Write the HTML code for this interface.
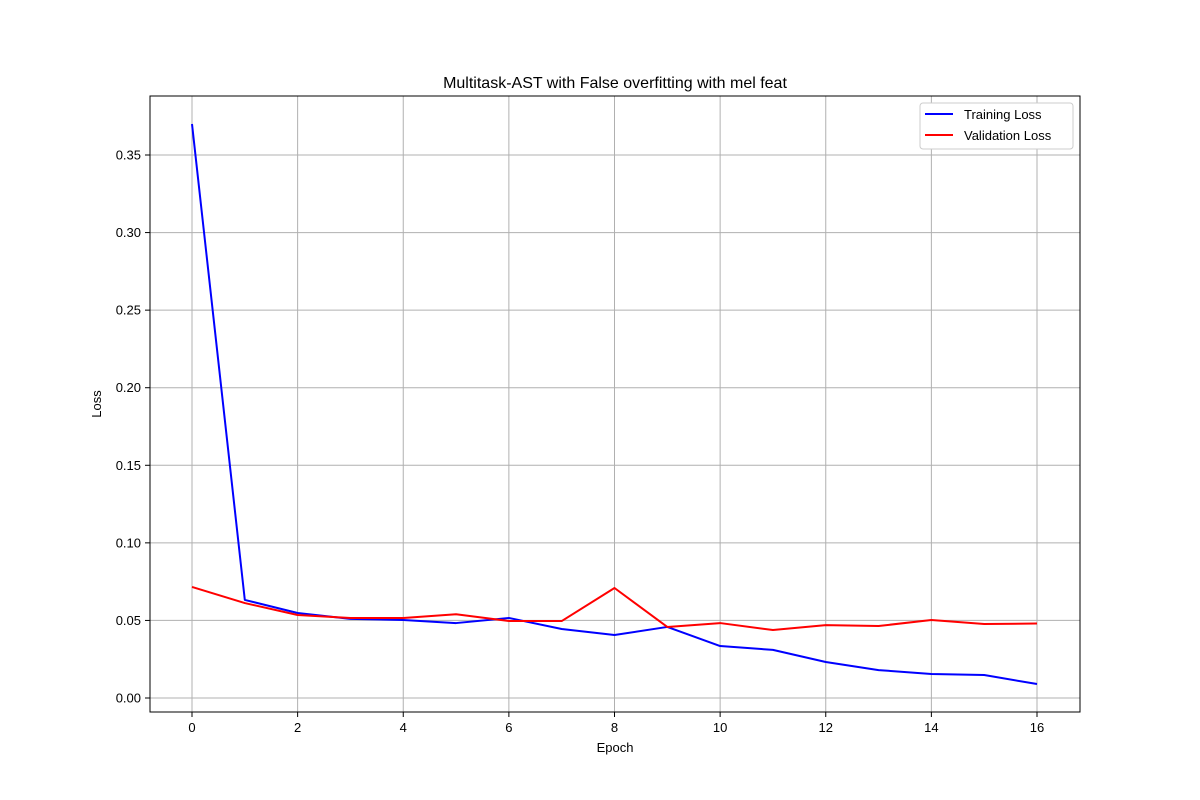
<!DOCTYPE html>
<html><head><meta charset="utf-8"><style>
html,body{margin:0;padding:0;background:#fff;}
svg{display:block;font-family:"Liberation Sans","DejaVu Sans",sans-serif;}
</style></head><body>
<svg id="chart" width="1200" height="800">
<rect x="0" y="0" width="1200" height="800" fill="#fff"/>
<g id="grid"></g>
<g id="series"></g>
<rect x="150" y="96" width="930" height="616" fill="none" stroke="#000" stroke-width="1"/>
<g id="ticks"></g>
<text x="615" y="88" text-anchor="middle" font-size="16">Multitask-AST with False overfitting with mel feat</text>
<text x="615" y="752" text-anchor="middle" font-size="13">Epoch</text>
<text x="101" y="404" text-anchor="middle" font-size="13" transform="rotate(-90 101 404)">Loss</text>
<g>
<rect x="920" y="103" width="153" height="46" rx="3" fill="#fff" stroke="#ccc"/>
<line x1="925" y1="114" x2="953" y2="114" stroke="blue" stroke-width="2"/>
<text x="964" y="119" font-size="13">Training Loss</text>
<line x1="925" y1="135" x2="953" y2="135" stroke="red" stroke-width="2"/>
<text x="964" y="140" font-size="13">Validation Loss</text>
</g>
</svg>
<script>
const epochs = [0,1,2,3,4,5,6,7,8,9,10,11,12,13,14,15,16];
const trainingLoss = [0.370,0.0632,0.0548,0.051,0.0503,0.0483,0.0516,0.0445,0.0406,0.0458,0.0335,0.031,0.0232,0.018,0.0155,0.0148,0.009];
const validationLoss = [0.0716,0.0612,0.0535,0.0516,0.0516,0.054,0.0496,0.0496,0.0709,0.0458,0.0483,0.0438,0.047,0.0464,0.0503,0.0477,0.048];
const xTicks = [0,2,4,6,8,10,12,14,16];
const yTicks = [0,0.05,0.10,0.15,0.20,0.25,0.30,0.35];
const NS="http://www.w3.org/2000/svg";
const xs = v => 192 + v*(1037-192)/16;
const ys = v => 698 - v*(698-155)/0.35;
const grid=document.getElementById('grid'), ticks=document.getElementById('ticks'), series=document.getElementById('series');
function mk(tag, attrs, parent){const e=document.createElementNS(NS,tag);for(const k in attrs)e.setAttribute(k,attrs[k]);parent.appendChild(e);return e;}
xTicks.forEach(t=>{
  const x=xs(t);
  const g=mk('line',{x1:x,y1:96,x2:x,y2:712,stroke:'#b0b0b0','stroke-width':1},grid);
  
  
  const tk=mk('line',{x1:x,y1:712,x2:x,y2:717,stroke:'#000'},ticks);
  
  
  const lb=mk('text',{x:x,y:732,'text-anchor':'middle','font-size':13},ticks);
  lb.textContent=t;
  
  
});
yTicks.forEach(t=>{
  const y=ys(t);
  const g=mk('line',{x1:150,y1:y,x2:1080,y2:y,stroke:'#b0b0b0','stroke-width':1},grid);
  
  
  const tk=mk('line',{x1:145,y1:y,x2:150,y2:y,stroke:'#000'},ticks);
  
  
  const lb=mk('text',{x:141,y:y+4.5,'text-anchor':'end','font-size':13},ticks);
  lb.textContent=t.toFixed(2);
  
  
});
function line(vals,color,name){
  const p=mk('polyline',{points:vals.map((v,i)=>xs(epochs[i])+','+ys(v)).join(' '),fill:'none',stroke:color,'stroke-width':2,'stroke-linejoin':'round'},series);
  
  
}
line(trainingLoss,'blue','training-loss-line');
line(validationLoss,'red','validation-loss-line');
</script>
</body></html>
